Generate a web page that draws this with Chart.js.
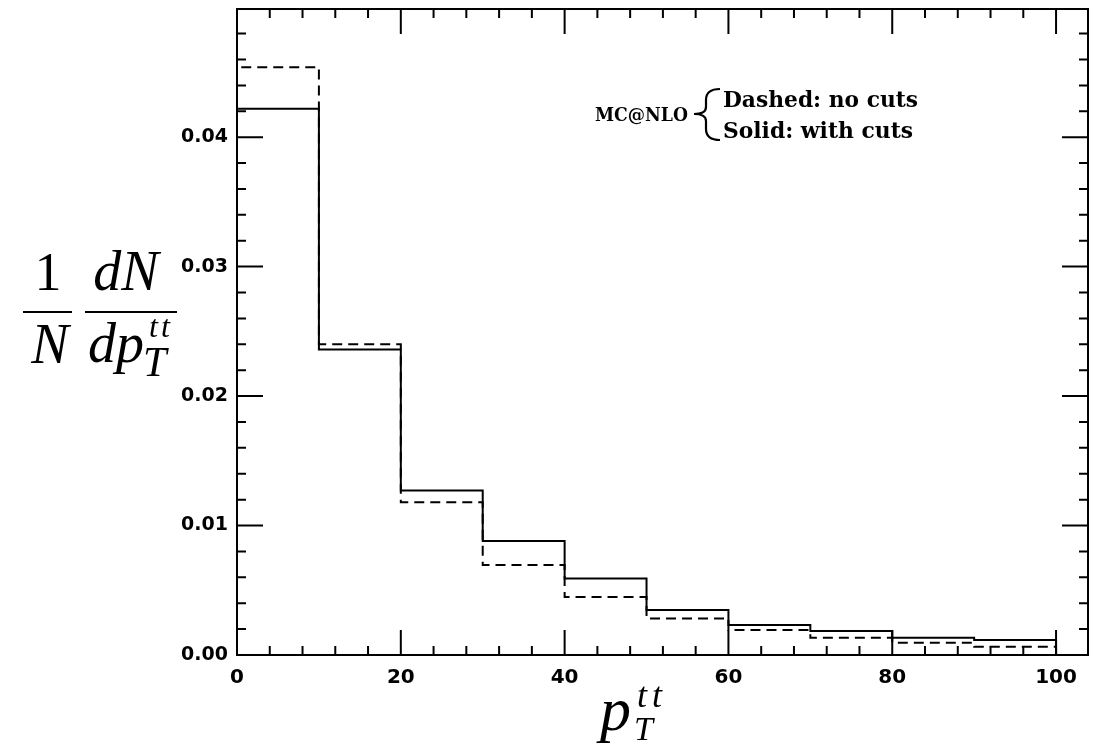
<!DOCTYPE html>
<html>
<head>
<meta charset="utf-8">
<script src="https://cdn.jsdelivr.net/npm/chart.js@4/dist/chart.umd.min.js"></script>
<style>
  html, body { margin: 0; padding: 0; background: #fff; }
  canvas { display: block; }
</style>
</head>
<body>
<canvas id="chart" width="1101" height="749"></canvas>
<script>
// bin edges of the pT(tt) histogram
const binEdges = [0, 10, 20, 30, 40, 50, 60, 70, 80, 90, 100];
// MC@NLO, solid: with cuts
const withCuts = [0.0422, 0.0236, 0.0127, 0.0088, 0.0059, 0.00347, 0.00232, 0.00185, 0.00134, 0.00116];
// MC@NLO, dashed: no cuts
const noCuts = [0.0454, 0.0240, 0.0118, 0.00695, 0.00448, 0.00282, 0.00193, 0.00134, 0.00095, 0.00064];

const xTickValues = [0, 20, 40, 60, 80, 100];
const yTickValues = [0, 0.01, 0.02, 0.03, 0.04];
const xMinorStep = 4;
const yMinorStep = 0.002;

// point at each bin's left edge; 'before' stepping goes horizontal then vertical
function histPoints(values) {
  const last = binEdges[binEdges.length - 1];
  const pts = [{ x: binEdges[0], y: 0 }];
  values.forEach((v, i) => pts.push({ x: binEdges[i], y: v }));
  pts.push({ x: last, y: 0 });
  return pts;
}

// squeeze/stretch a line of text to a given width
function fitText(ctx, text, x, y, width) {
  const w = ctx.measureText(text).width;
  ctx.save();
  ctx.translate(x, y);
  ctx.scale(width / w, 1);
  ctx.fillText(text, 0, 0);
  ctx.restore();
}

const frame = {
  id: 'frame',
  afterDatasetsDraw(chart) {
    const { ctx, chartArea: a, scales: { x, y } } = chart;
    ctx.save();
    ctx.strokeStyle = '#000';
    ctx.lineWidth = 2;
    ctx.strokeRect(a.left, a.top, a.right - a.left, a.bottom - a.top);
    ctx.beginPath();
    for (let i = 0; i * xMinorStep <= 100; i++) {
      const px = x.getPixelForValue(i * xMinorStep);
      const len = i % 5 === 0 ? 25 : 9;
      ctx.moveTo(px, a.bottom); ctx.lineTo(px, a.bottom - len);
      ctx.moveTo(px, a.top); ctx.lineTo(px, a.top + len);
    }
    for (let i = 0; i * yMinorStep < y.max; i++) {
      const py = y.getPixelForValue(i * yMinorStep);
      const len = i % 5 === 0 ? 26 : 9;
      ctx.moveTo(a.left, py); ctx.lineTo(a.left + len, py);
      ctx.moveTo(a.right, py); ctx.lineTo(a.right - len, py);
    }
    ctx.stroke();
    ctx.restore();
  },
  afterDraw(chart) {
    const ctx = chart.ctx;
    ctx.save();
    ctx.fillStyle = '#000';
    ctx.strokeStyle = '#000';
    ctx.textBaseline = 'alphabetic';

    // legend note
    ctx.font = 'bold 23px "DejaVu Serif"';
    fitText(ctx, 'Dashed: no cuts', 723, 107, 195);
    fitText(ctx, 'Solid: with cuts', 723, 138, 190);
    ctx.font = 'bold 18px "DejaVu Serif"';
    fitText(ctx, 'MC@NLO', 595, 121, 93);
    ctx.lineWidth = 2.2;
    ctx.beginPath();
    ctx.moveTo(720, 89);
    ctx.quadraticCurveTo(706, 89, 706, 100);
    ctx.lineTo(706, 107);
    ctx.quadraticCurveTo(706, 114, 694, 114);
    ctx.quadraticCurveTo(706, 114, 706, 121);
    ctx.lineTo(706, 129);
    ctx.quadraticCurveTo(706, 140, 720, 140);
    ctx.stroke();

    // y title: 1/N dN/dpT^tt
    ctx.textAlign = 'center';
    ctx.font = '54px "Liberation Serif"';
    ctx.fillText('1', 48, 290);
    ctx.font = 'italic 56px "Liberation Serif"';
    ctx.fillText('N', 50, 363);
    ctx.fillText('dN', 126, 290);
    ctx.textAlign = 'left';
    ctx.fillText('dp', 88, 362);
    ctx.font = 'italic 32px "Liberation Serif"';
    ctx.fillText('t', 149, 337);
    ctx.fillText('t', 161, 337);
    ctx.font = 'italic 42px "Liberation Serif"';
    ctx.fillText('T', 143, 376);
    ctx.fillRect(23, 311, 49, 2);
    ctx.fillRect(85, 311, 92, 2);

    // x title: pT^tt
    ctx.font = 'italic 62px "Liberation Serif"';
    ctx.fillText('p', 600, 730);
    ctx.font = 'italic 36px "Liberation Serif"';
    ctx.fillText('t', 637, 707);
    ctx.fillText('t', 652, 707);
    ctx.font = 'italic 34px "Liberation Serif"';
    ctx.fillText('T', 634, 740);
    ctx.restore();
  }
};

new Chart(document.getElementById('chart'), {
  type: 'line',
  data: {
    datasets: [
      {
        label: 'Solid: with cuts',
        data: histPoints(withCuts),
        stepped: 'before',
        borderColor: '#000',
        borderWidth: 2,
        pointRadius: 0,
        fill: false
      },
      {
        label: 'Dashed: no cuts',
        data: histPoints(noCuts),
        stepped: 'before',
        borderColor: '#000',
        borderWidth: 2,
        borderDash: [10, 6],
        pointRadius: 0,
        fill: false
      }
    ]
  },
  options: {
    responsive: false,
    devicePixelRatio: 1,
    animation: false,
    layout: { padding: { left: 0, top: 9, right: 13, bottom: 0 } },
    plugins: { legend: { display: false }, tooltip: { enabled: false } },
    scales: {
      x: {
        type: 'linear',
        min: 0,
        max: 103.9,
        grid: { display: false, drawTicks: false },
        border: { display: false },
        afterBuildTicks: s => { s.ticks = xTickValues.map(v => ({ value: v })); },
        afterFit: s => { s.height = 94; },
        ticks: {
          padding: 11,
          color: '#000',
          font: { family: 'DejaVu Sans', size: 20, weight: 'bold' },
          maxRotation: 0,
          callback: v => String(v)
        }
      },
      y: {
        type: 'linear',
        min: 0,
        max: 0.0499,
        grid: { display: false, drawTicks: false },
        border: { display: false },
        afterBuildTicks: s => { s.ticks = yTickValues.map(v => ({ value: v })); },
        afterFit: s => { s.width = 237; s.paddingTop = 0; s.paddingBottom = 0; },
        ticks: {
          padding: 9,
          color: '#000',
          font: { family: 'DejaVu Sans', size: 19, weight: 'bold' },
          callback: v => v.toFixed(2)
        }
      }
    }
  },
  plugins: [frame]
});
</script>
</body>
</html>
